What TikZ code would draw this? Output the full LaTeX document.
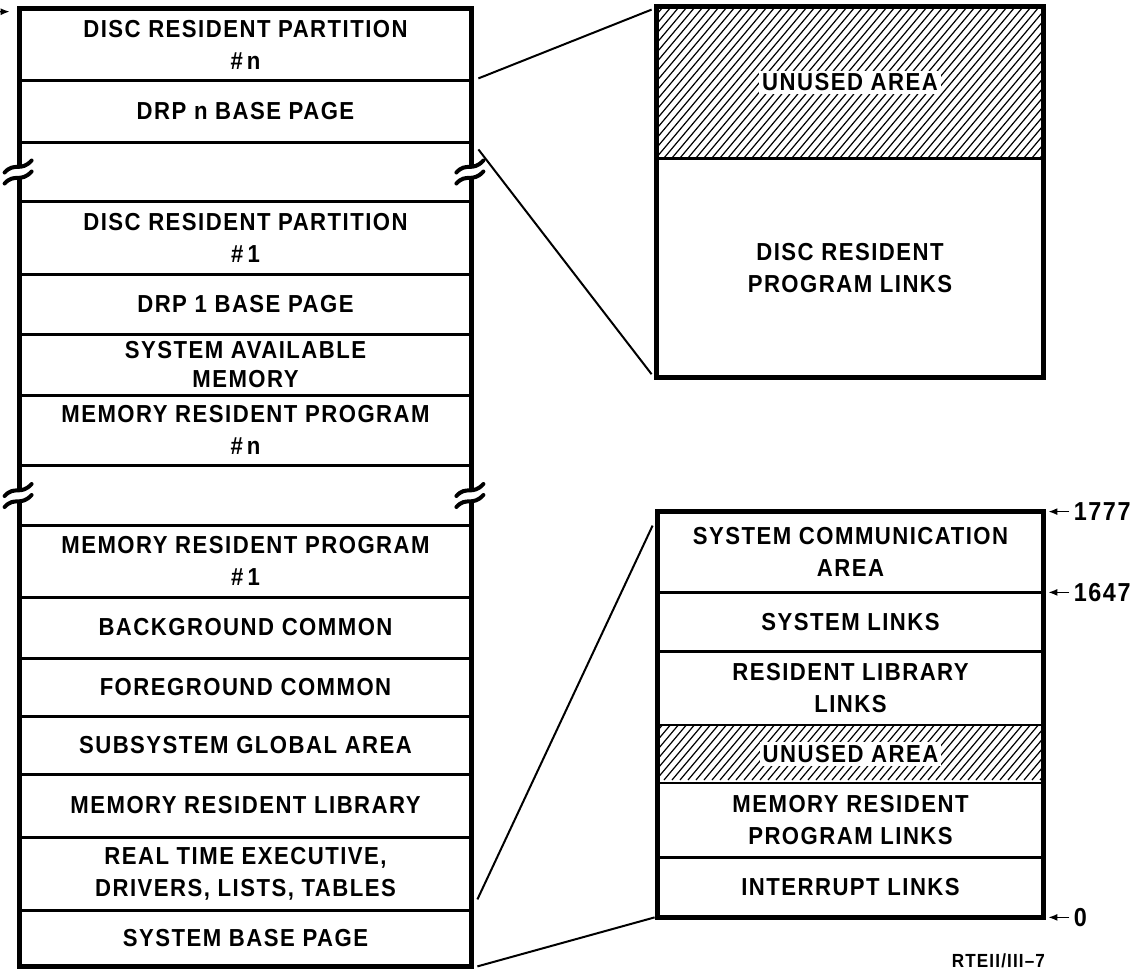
\documentclass[tikz,border=0pt]{standalone}
\usepackage{fontspec}
\setmainfont{Liberation Sans}[LetterSpace=6, FakeStretch=0.9]
\usetikzlibrary{arrows.meta,positioning,calc}

\tikzset{
  cell/.style={inner sep=0pt, align=center, minimum width=#1,
    font=\bfseries\fontsize{12.3}{16}\selectfont},
  cell/.default=225.5pt,
  sep/.style={line width=1.3pt},
  frame/.style={line width=2.6pt},
  hatch/.style={line width=0.6pt},
  gap/.style={fill=white, inner sep=1.5pt, font=\bfseries\fontsize{12.3}{16}\selectfont},
  zoomline/.style={line width=1pt},
  brk/.style={line width=2pt, line cap=round},
  addr/.style={inner sep=1pt, font=\bfseries\fontsize{13}{14}\selectfont},
  tag/.style={inner sep=0pt, font=\bfseries\fontsize{9.5}{10}\selectfont},
  pointer/.style={line width=0.7pt, -{Latex[length=4.5pt,width=3.5pt]}}
}

% two wavy strokes where a side of the map is broken
\newcommand{\brkmark}[1]{%
  \draw[brk] ($(#1)+(-15,1)$) .. controls ($(#1)+(-5,-10)$) and ($(#1)+(1,1)$) .. ($(#1)+(12,-11)$);
  \draw[brk] ($(#1)+(-15,12)$) .. controls ($(#1)+(-5,1)$) and ($(#1)+(1,12)$) .. ($(#1)+(12,0)$);}

\begin{document}
\begin{tikzpicture}[x=0.5pt, y=-0.5pt]
\useasboundingbox (0,0) rectangle (1137,969);

% memory map
\foreach \a/\b/\c [count=\k] in {9/80/{DISC RESIDENT PARTITION\\\#\,n},
    80/142/{DRP n BASE PAGE}, 142/201/{},
    201/274/{DISC RESIDENT PARTITION\\\#\,1}, 274/334/{DRP 1 BASE PAGE},
    334/395/{SYSTEM AVAILABLE\\[-1.5pt]MEMORY},
    395/465/{MEMORY RESIDENT PROGRAM\\\#\,n}, 465/525/{},
    525/597/{MEMORY RESIDENT PROGRAM\\\#\,1}, 597/658/{BACKGROUND COMMON},
    658/716/{FOREGROUND COMMON}, 716/774/{SUBSYSTEM GLOBAL AREA},
    774/837/{MEMORY RESIDENT LIBRARY},
    837/910/{REAL TIME EXECUTIVE,\\DRIVERS, LISTS, TABLES},
    910/966/{SYSTEM BASE PAGE}}
  \node[cell, minimum height={(\b-\a)*0.5pt}] (L\k) at (245.5,{(\a+\b)/2}) {\c};
\foreach \k in {1,...,14}
  \draw[sep] (L\k.south west) -- (L\k.south east);

\draw[frame] ([yshift=2.5pt]L3.west) -- (L1.north west) -- (L1.north east) -- ([yshift=2.5pt]L3.east);
\draw[frame] ([yshift=-2.5pt]L3.west) -- ([yshift=2.5pt]L8.west);
\draw[frame] ([yshift=-2.5pt]L3.east) -- ([yshift=2.5pt]L8.east);
\draw[frame] ([yshift=-2.5pt]L8.west) -- (L15.south west) -- (L15.south east) -- ([yshift=-2.5pt]L8.east);
\brkmark{L3.west}
\brkmark{L3.east}
\brkmark{L8.west}
\brkmark{L8.east}

\coordinate (feed) at (-14,12);
\draw[pointer] (feed) -- ([xshift=-5pt,yshift=-1.5pt]L1.north west);

% disc resident partition
\node[cell=193pt, minimum height=75.5pt] (T1) at (850,82.5) {};
\node[cell=193pt, minimum height=109pt, below=0pt of T1] (T2) {DISC RESIDENT\\PROGRAM LINKS};
\begin{scope}
  \clip (T1.south west) rectangle (T1.north east);
  \foreach \hx in {520,528,...,1048}
    \draw[hatch] (\hx,158) -- ++(127,-151);
\end{scope}
\node[gap] (u1) at (T1) {UNUSED AREA};
\draw[sep] (T1.south west) -- (T1.south east);
\draw[frame] (T1.north west) rectangle (T2.south east);

% system base page
\node[cell=192.5pt, minimum height=40pt] (B1) at (850.5,552) {SYSTEM COMMUNICATION\\AREA};
\node[cell=192.5pt, minimum height=29pt, below=0pt of B1] (B2) {SYSTEM LINKS};
\node[cell=192.5pt, minimum height=36.5pt, below=0pt of B2] (B3) {RESIDENT LIBRARY\\LINKS};
\node[cell=192.5pt, minimum height=28.5pt, below=0pt of B3] (B4) {};
\node[cell=192.5pt, minimum height=37pt, below=0pt of B4] (B5) {MEMORY RESIDENT\\PROGRAM LINKS};
\node[cell=192.5pt, minimum height=29.5pt, below=0pt of B5] (B6) {INTERRUPT LINKS};
\begin{scope}
  \clip (B4.south west) rectangle (B4.north east);
  \foreach \hx in {600,608,...,1048}
    \draw[hatch] (\hx,780) -- ++(48,-57);
\end{scope}
\node[gap] (u2) at (B4) {UNUSED AREA};
\foreach \k in {1,...,5}
  \draw[sep] (B\k.south west) -- (B\k.south east);
\draw[frame] (B1.north west) rectangle (B6.south east);

\node[addr, right=14pt of B1.north east] (m1777) {1777};
\node[addr, right=14pt of B1.south east] (m1647) {1647};
\node[addr, right=14pt of B6.south east] (m0) {0};
\draw[pointer, shorten <=1pt] (m1777.west) -- ([xshift=2.5pt]B1.north east);
\draw[pointer, shorten <=1pt] (m1647.west) -- ([xshift=2.5pt]B1.south east);
\draw[pointer, shorten <=1pt] (m0.west) -- ([xshift=2.5pt]B6.south east);

% blow-up lines
\draw[zoomline] ([xshift=3.5pt,yshift=1pt]L1.south east) -- ([xshift=-2.5pt,yshift=-1.5pt]T1.north west);
\draw[zoomline] ([xshift=3.5pt,yshift=-3.5pt]L2.south east) -- ([xshift=-2.5pt,yshift=1.5pt]T2.south west);
\draw[zoomline] ([xshift=3pt,yshift=5.5pt]L14.south east) -- ([xshift=-2.5pt,yshift=-7pt]B1.north west);
\draw[zoomline] ([xshift=3pt]L15.south east) -- ([xshift=-1.5pt]B6.south west);

\node[tag, below left=18pt and -1pt of B6.south east] (fig) {RTEII/III--7};
\end{tikzpicture}
\end{document}
